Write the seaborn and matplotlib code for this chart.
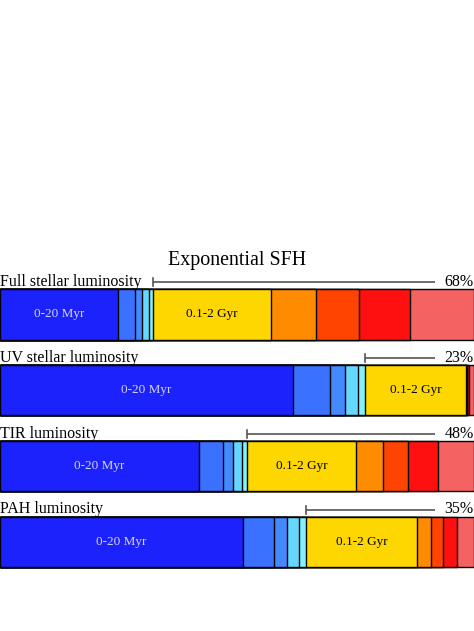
import numpy as np
import pandas as pd
import matplotlib
matplotlib.use("Agg")
import matplotlib.pyplot as plt
import seaborn as sns

# ---- data (percent of luminosity per stellar age bin) ----
rows = ["Full stellar luminosity", "UV stellar luminosity", "TIR luminosity", "PAH luminosity"]
age_bins = ["0-20 Myr", "20-40 Myr", "40-60 Myr", "60-80 Myr", "80-100 Myr",
            "0.1-2 Gyr", "2-4 Gyr", "4-6 Gyr", "6-8 Gyr", "8-13 Gyr"]
full_stellar = [24.96, 3.46, 1.48, 1.48, 0.97, 24.77, 9.56, 9.01, 10.89, 13.42]
uv_stellar   = [61.75, 7.87, 3.16, 2.68, 1.60, 21.20, 0.21, 0.15, 0.42, 0.96]
tir          = [41.98, 5.00, 2.11, 1.90, 1.18, 22.87, 5.70, 5.34, 6.27, 7.65]
pah          = [51.33, 6.54, 2.74, 2.47, 1.48, 23.42, 3.02, 2.53, 2.95, 3.52]
old_pct_labels = ["68%", "23%", "48%", "35%"]
title = "Exponential SFH"
labelled_bins = {"0-20 Myr": "#d4d4f4", "0.1-2 Gyr": "black"}

colors = ["#1c22fc", "#3a72ff", "#4389ff", "#66d8ff", "#80f2ff",
          "#ffd700", "#ff8c00", "#ff4300", "#ff1010", "#f46262"]

values = np.array([full_stellar, uv_stellar, tir, pah])
cum = np.cumsum(values, axis=1)

plt.rcParams["font.family"] = ["Liberation Serif", "DejaVu Serif"]

fig = plt.figure(figsize=(4.74, 6.31), dpi=100)
# row centres at ~314 px from top, spacing ~75.9 px
ax = fig.add_axes([0.0, 0.0807, 1.0, 0.4811])

bar_h = 0.662
for k in range(len(age_bins) - 1, -1, -1):
    df = pd.DataFrame({"row": rows, "cum": cum[:, k]})
    sns.barplot(data=df, x="cum", y="row", orient="h", color=colors[k],
                saturation=1, width=bar_h, edgecolor="black", linewidth=1.0,
                errorbar=None, ax=ax)

ax.set_xlim(0, 100)
ax.set_ylim(len(rows) - 0.5, -0.5)
ax.axis("off")

for i, r in enumerate(rows):
    top = i - bar_h / 2
    # row label
    ax.text(0.0, top - 0.047, r, ha="left", va="baseline", fontsize=11.5, color="black")
    # bracket marking the >0.1 Gyr part
    x0 = cum[i, 4]
    ax.plot([x0, 91.8], [top - 0.093, top - 0.093], color="#555555", lw=1.2,
            solid_capstyle="butt")
    ax.plot([x0, x0], [top - 0.145, top - 0.04], color="#555555", lw=1.2)
    ax.text(99.9, top - 0.047, old_pct_labels[i], ha="right", va="baseline",
            fontsize=11.5, color="black")
    # in-bar labels
    for b, col in labelled_bins.items():
        k = age_bins.index(b)
        left = cum[i, k] - values[i, k]
        ax.text(left + values[i, k] / 2, i, b, ha="center", va="center",
                fontsize=9.5, color=col)

ax.text(50, -0.652, title, ha="center", va="baseline", fontsize=14.4)

fig.savefig("out.png", dpi=100)
